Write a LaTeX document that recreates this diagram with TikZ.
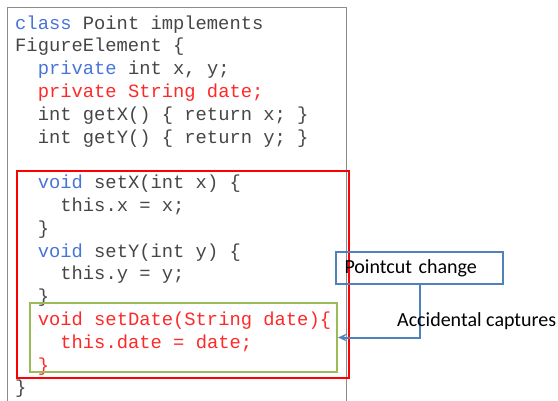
\documentclass[tikz,border=0pt]{standalone}
\usepackage{fontspec}
\setmainfont{Carlito}
\newfontfamily\codefont{Liberation Mono}
\usetikzlibrary{arrows.meta}
\definecolor{codegray}{RGB}{70,70,70}
\definecolor{kwblue}{RGB}{72,116,218}
\definecolor{codered}{RGB}{255,40,40}
\definecolor{framegray}{RGB}{140,140,140}
\definecolor{boxgreen}{RGB}{155,187,89}
\definecolor{calloutblue}{RGB}{79,129,189}
\tikzset{
  code/.style={anchor=base west, inner sep=0pt, font=\codefont\fontsize{18.8}{22}\selectfont, text=codegray},
  hl/.style={text=codered},
  label/.style={font=\fontsize{20}{24}\selectfont, text=black},
}
\newcommand{\kwd}[1]{\textcolor{kwblue}{#1}}
\begin{document}
\begin{tikzpicture}[x=1pt,y=-1pt]
  \useasboundingbox (0,0) rectangle (558,400);
  % listing frame, open at the bottom
  \draw[framegray, line width=1pt] (7,401) -- (7,7) -- (346,7) -- (346,401);

  % source lines: x = 15 + 11.3*indent, baseline = 29 + 22.8*line
  \node[code] (l0)  at (15,29.0)    {\kwd{class} Point implements};
  \node[code] (l1)  at (15,51.8)    {FigureElement \{};
  \node[code] (l2)  at (37.6,74.6)  {\kwd{private} int x, y;};
  \node[code,hl] (l3)  at (37.6,97.4)  {private String date;};
  \node[code] (l4)  at (37.6,120.2) {int getX() \{ return x; \}};
  \node[code] (l5)  at (37.6,143.0) {int getY() \{ return y; \}};
  \node[code] (l7)  at (37.6,188.6) {\kwd{void} setX(int x) \{};
  \node[code] (l8)  at (60.2,211.4) {this.x = x;};
  \node[code] (l9)  at (37.6,234.2) {\}};
  \node[code] (l10) at (37.6,257.0) {\kwd{void} setY(int y) \{};
  \node[code] (l11) at (60.2,279.8) {this.y = y;};
  \node[code] (l12) at (37.6,302.6) {\}};
  \node[code,hl] (l13) at (37.6,325.4) {void setDate(String date)\{};
  \node[code,hl] (l14) at (60.2,348.2) {this.date = date;};
  \node[code,hl] (l15) at (37.6,371.0) {\}};
  \node[code] (l16) at (15,393.8)   {\}};

  % highlighted regions
  \node[draw=red, line width=2pt, minimum width=332pt, minimum height=207pt, inner sep=0pt]
    (pointcut) at (183,274.5) {};
  \node[draw=boxgreen, line width=2pt, minimum width=307pt, minimum height=69pt, inner sep=0pt]
    (accidental) at (183.5,337.5) {};

  % callout
  \node[label, draw=calloutblue, line width=2pt, text width=150pt, align=left,
        inner xsep=8.5pt, minimum height=32pt]
    (change) at (419.5,268) {Pointcut change};
  \draw[calloutblue, line width=2pt, -{Stealth[length=9pt,width=8pt,inset=3.5pt]}]
    (change.south) |- (accidental.east);
  \node[label, anchor=west, inner sep=0pt] (captures) at (397,321) {Accidental captures};
\end{tikzpicture}
\end{document}
